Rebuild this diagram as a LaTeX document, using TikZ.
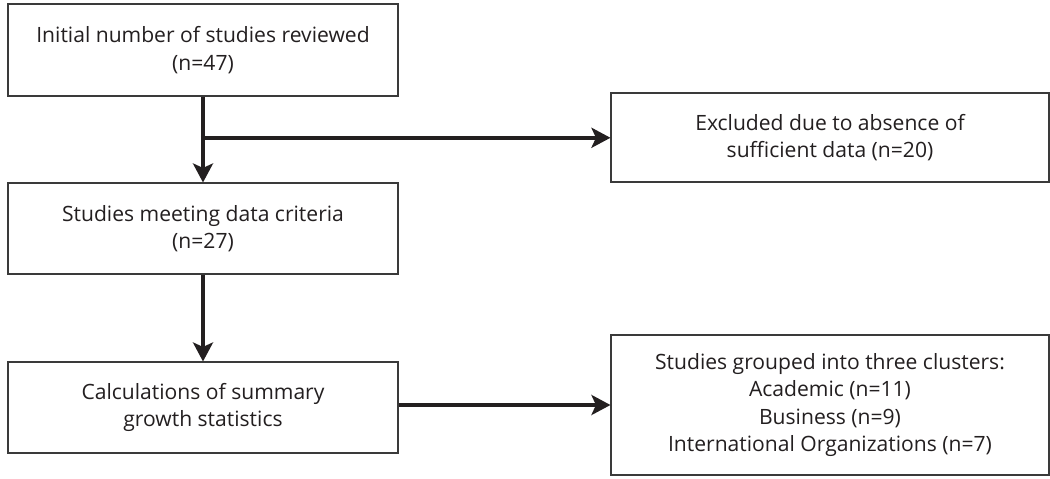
\documentclass[tikz,border=0pt]{standalone}
\usepackage{fontspec}
\setmainfont{Open Sans}
\usepackage{tikz}
\usetikzlibrary{arrows.meta,calc,positioning}
\definecolor{FlowBorder}{HTML}{3A3A3A}
\definecolor{FlowText}{HTML}{231F20}
\tikzset{
  flow/.style={
    draw=FlowBorder,
    line width=.6pt,
    fill=white,
    text=FlowText,
    align=center,
    font=\fontsize{12}{15.6}\selectfont,
    inner sep=2mm
  },
  mainflow/.style={flow,minimum width=7.8cm,minimum height=1.82cm},
  sideflow/.style={flow,minimum width=8.76cm},
  arrow/.style={-{Stealth[length=3.8mm,width=4mm,inset=.9mm]},draw=FlowText,line width=2.3pt}
}

\begin{document}
\begin{tikzpicture}[x=1cm,y=1cm]
  \useasboundingbox (0,0) rectangle (21,-9.58);
  \node[mainflow,minimum height=1.84cm] (reviewed) at (4.06,-1.00)
    {Initial number of studies reviewed\\(n=47)};
  \node[mainflow] (criteria) at (4.06,-4.57)
    {Studies meeting data criteria\\(n=27)};
  \node[mainflow] (growth) at (4.06,-8.15)
    {Calculations of summary\\growth statistics};
  \node[sideflow,minimum height=1.78cm] (excluded) at (16.60,-2.75)
    {Excluded due to absence of\\sufficient data (n=20)};
  \node[sideflow,minimum height=2.80cm] (clusters) at (16.60,-8.10)
    {Studies grouped into three clusters:\\Academic (n=11)\\Business (n=9)\\International Organizations (n=7)};

  \coordinate (split) at ($(reviewed.south)!.48!(criteria.north)$);
  \draw[arrow] (reviewed) -- (criteria);
  \draw[arrow] ([xshift=-1.15pt]split) -- (split -| excluded.west);
  \draw[arrow] (criteria) -- (growth);
  \draw[arrow] (growth.east |- clusters.west) -- (clusters.west);
\end{tikzpicture}
\end{document}
